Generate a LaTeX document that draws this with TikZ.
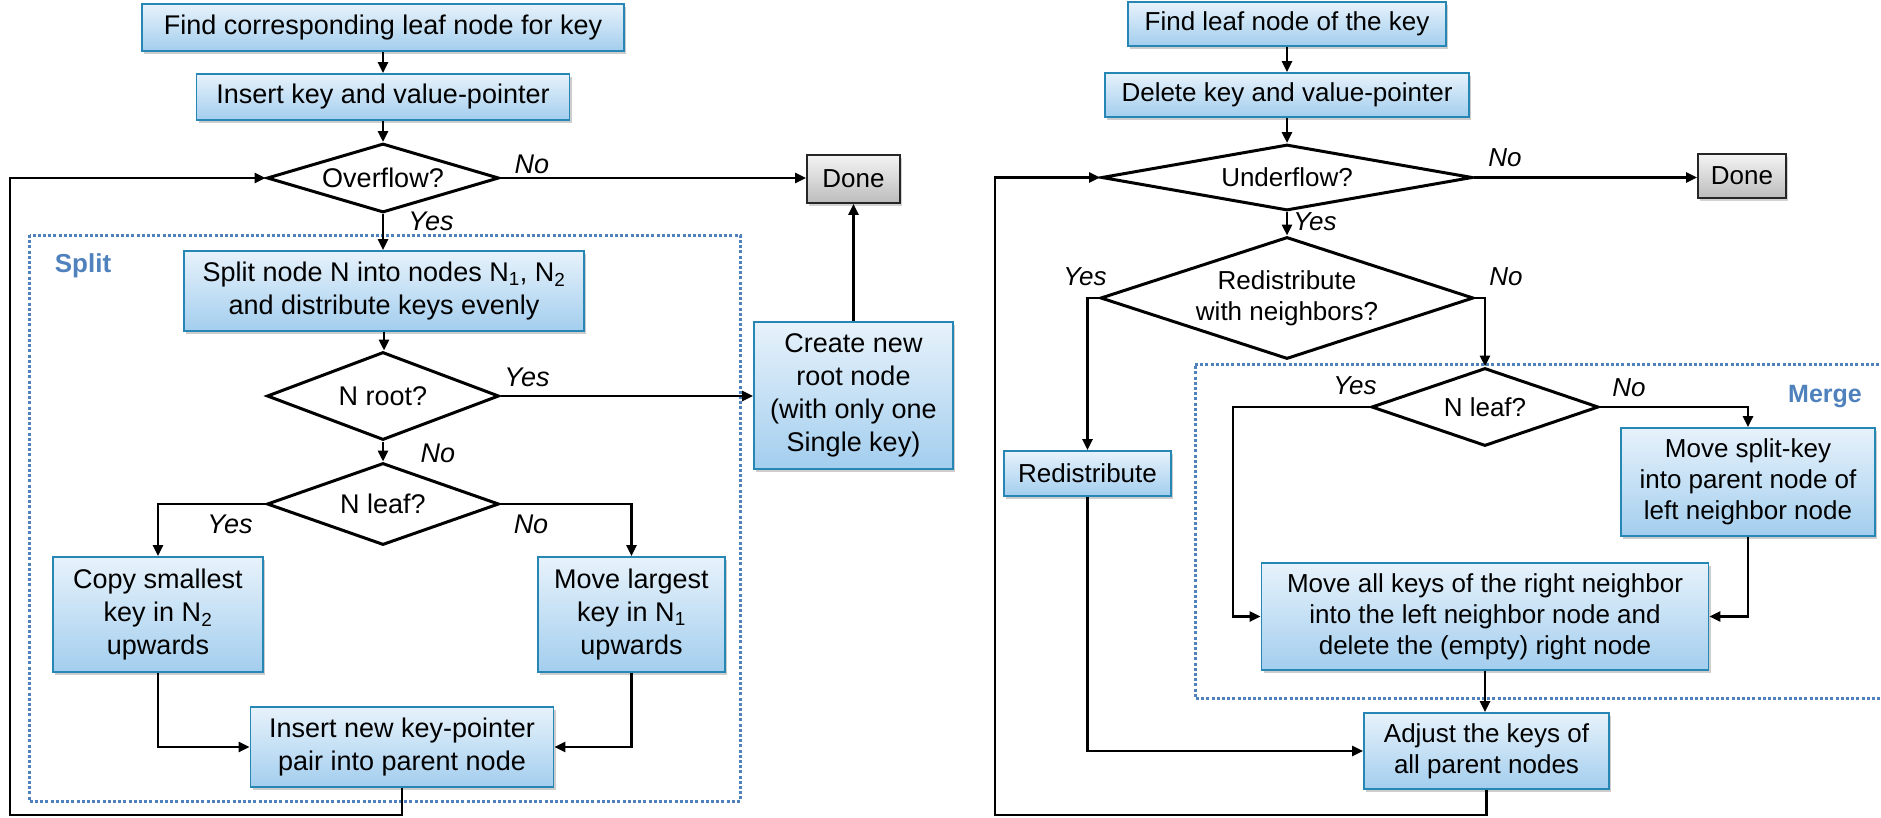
\documentclass[tikz,border=0pt]{standalone}
\usepackage{fontspec}
\setmainfont{Liberation Sans}
\usetikzlibrary{arrows.meta,shapes.geometric,shadows}

\definecolor{boxtop}{RGB}{231,242,251}
\definecolor{boxbot}{RGB}{163,206,238}
\definecolor{boxline}{RGB}{38,134,180}
\definecolor{grouphue}{RGB}{79,129,189}
\definecolor{donetop}{RGB}{244,244,244}
\definecolor{donebot}{RGB}{188,188,188}

\newcommand\leftsize{\fontsize{27}{33}\selectfont}
\newcommand\rightsize{\fontsize{26}{31}\selectfont}

\tikzset{
  stepbox/.style={draw=boxline, line width=1.8pt, top color=boxtop, bottom color=boxbot,
    align=center, inner sep=0pt,
    drop shadow={opacity=0.28, shadow xshift=2pt, shadow yshift=-3pt, fill=black!70}},
  donebox/.style={draw=black!85, line width=1.8pt, top color=donetop, bottom color=donebot,
    inner sep=0pt, drop shadow={opacity=0.25, shadow xshift=2pt, shadow yshift=-3pt, fill=black!70}},
  decision/.style={diamond, draw=black, line width=3pt, fill=white, align=center, inner sep=0pt},
  flow/.style={draw=black, line width=2.7pt, -{Triangle[length=11pt,width=10pt]}},
  lbranch/.style={font=\leftsize\itshape, inner sep=0pt},
  rbranch/.style={font=\rightsize\itshape, inner sep=0pt},
  group/.style={draw=grouphue, line width=3pt, dash pattern=on 3pt off 2.2pt},
  grouplbl/.style={text=grouphue, inner sep=0pt},
}

\begin{document}
\begin{tikzpicture}[x=1pt, y=-1pt]
\useasboundingbox (0,0) rectangle (1881,817);

% ---------------- Insertion ----------------
\begin{scope}[every node/.append style={font=\leftsize}]
\draw[group] (29.5,235) rectangle (740,801.5);
\node[grouplbl, font=\fontsize{26}{30}\selectfont\bfseries] (splitlbl) at (83,266) {Split};

\node[stepbox, minimum width=482, minimum height=47] (findL) at (383,27.5) {Find corresponding leaf node for key};
\node[stepbox, minimum width=373, minimum height=46] (insL) at (383,97) {Insert key and value-pointer};
\node[decision, aspect=3.36, minimum width=232, minimum height=69] (ovf) at (383,178) {Overflow?};
\node[donebox, minimum width=93, minimum height=48, font=\fontsize{26}{30}\selectfont] (doneL) at (853.5,179) {Done};
\node[stepbox, minimum width=400, minimum height=80] (splitL) at (384,291)
  {Split node N into nodes N\textsubscript{1}, N\textsubscript{2}\\and distribute keys evenly};
\node[decision, aspect=2.64, minimum width=232, minimum height=88] (nroot) at (383,396) {N root?};
\node[stepbox, minimum width=199, minimum height=147] (create) at (853.5,395.5)
  {Create new\\root node\\(with only one\\Single key)};
\node[decision, aspect=2.83, minimum width=232, minimum height=82] (nleafL) at (383,504) {N leaf?};
\node[stepbox, minimum width=210, minimum height=115] (copyL) at (158,614.5)
  {Copy smallest\\key in N\textsubscript{2}\\upwards};
\node[stepbox, minimum width=187, minimum height=115] (moveL) at (631.5,614.5)
  {Move largest\\key in N\textsubscript{1}\\upwards};
\node[stepbox, minimum width=303, minimum height=80] (insnew) at (402,747)
  {Insert new key-pointer\\pair into parent node};

\node[lbranch] (noA) at (532,164) {No};
\node[lbranch] (yesA) at (431,221) {Yes};
\node[lbranch] (yesB) at (527,377) {Yes};
\node[lbranch] (noB) at (438,453) {No};
\node[lbranch] (yesC) at (230,524) {Yes};
\node[lbranch] (noC) at (531,524) {No};

\coordinate (loopL) at (10,815);

\draw[flow] (findL) -- (insL);
\draw[flow] (insL) -- (ovf);
\draw[flow] (ovf.east) -- (ovf.east -| doneL.west);
\draw[flow] (ovf.south) -- (ovf.south |- splitL.north);
\draw[flow] (splitL.south) -- (splitL.south |- nroot.north);
\draw[flow] (nroot.east) -- (nroot.east -| create.west);
\draw[flow] (create) -- (doneL);
\draw[flow] (nroot) -- (nleafL);
\draw[flow] (nleafL.west) -| (copyL.north);
\draw[flow] (nleafL.east) -| (moveL.north);
\draw[flow] (copyL.south) |- (insnew.west);
\draw[flow] (moveL.south) |- (insnew.east);
\draw[flow] (insnew.south) |- (loopL) |- (ovf.west);
\end{scope}

% ---------------- Deletion ----------------
\begin{scope}[every node/.append style={font=\rightsize}]
\draw[group] (1900,364) -| (1195,698) -- (1900,698);
\node[grouplbl, font=\fontsize{25}{29}\selectfont\bfseries] (mergelbl) at (1825,397) {Merge};

\node[stepbox, minimum width=318, minimum height=44] (findR) at (1287,24) {Find leaf node of the key};
\node[stepbox, minimum width=364, minimum height=44] (delR) at (1287,95) {Delete key and value-pointer};
\node[decision, aspect=5.62, minimum width=371, minimum height=66] (udf) at (1287,177.5) {Underflow?};
\node[donebox, minimum width=88, minimum height=44] (doneR) at (1742,176) {Done};
\node[decision, aspect=3.06, minimum width=373, minimum height=122] (redq) at (1287,298) {Redistribute\\with neighbors?};
\node[stepbox, minimum width=167, minimum height=45] (redist) at (1087.5,473.5) {Redistribute};
\node[decision, aspect=2.91, minimum width=227, minimum height=78] (nleafR) at (1485,407) {N leaf?};
\node[stepbox, minimum width=254, minimum height=108] (movesplit) at (1748,482)
  {Move split-key\\into parent node of\\left neighbor node};
\node[stepbox, minimum width=447, minimum height=107] (moveall) at (1485,616.5)
  {Move all keys of the right neighbor\\into the left neighbor node and\\delete the (empty) right node};
\node[stepbox, minimum width=245, minimum height=76] (adjust) at (1486.5,751)
  {Adjust the keys of\\all parent nodes};

\node[rbranch] (noD) at (1505,158) {No};
\node[rbranch] (yesD) at (1315,222) {Yes};
\node[rbranch] (yesE) at (1085,277) {Yes};
\node[rbranch] (noE) at (1506,277) {No};
\node[rbranch] (yesF) at (1355,386) {Yes};
\node[rbranch] (noF) at (1629,388) {No};

\coordinate (mleft) at (1233,407);
\coordinate (loopR) at (995,815);

\draw[flow] (findR) -- (delR);
\draw[flow] (delR) -- (udf);
\draw[flow] (udf.east) -- (udf.east -| doneR.west);
\draw[flow] (udf) -- (redq);
\draw[flow] (redq.west) -| (redist.north);
\draw[flow] (redq.east) -| (nleafR.north);
\draw[flow] (nleafR.west) -- (mleft) |- (moveall.west);
\draw[flow] (nleafR.east) -| (movesplit.north);
\draw[flow] (movesplit.south) |- (moveall.east);
\draw[flow] (moveall.south) -- (moveall.south |- adjust.north);
\draw[flow] (redist.south) |- (adjust.west);
\draw[flow] (adjust.south) |- (loopR) |- (udf.west);
\end{scope}
\end{tikzpicture}
\end{document}
